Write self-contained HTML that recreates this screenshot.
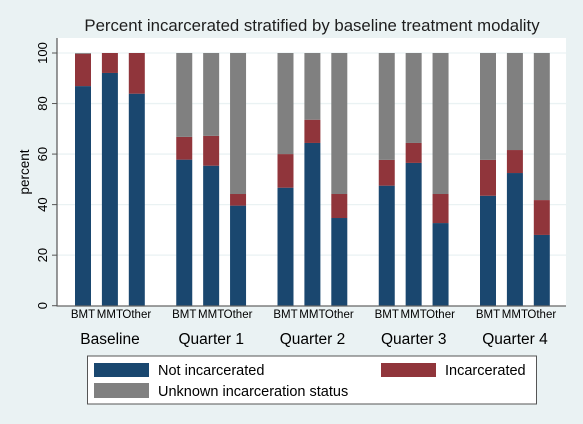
<!DOCTYPE html>
<html><head><meta charset="utf-8"><style>
body{margin:0;background:#eaf2f3;}
svg{display:block;font-family:"Liberation Sans",Arial,sans-serif;}
</style></head><body>
<svg id="chart" width="583" height="424" viewBox="0 0 583 424" xmlns="http://www.w3.org/2000/svg">
<rect x="0" y="0" width="583" height="424" fill="#eaf2f3"/>
<text x="312" y="31" font-size="16.8" text-anchor="middle" fill="#1e1e1e">Percent incarcerated stratified by baseline treatment modality</text>
<rect x="57" y="38" width="509" height="268" fill="#ffffff"/>
<g id="grid"></g>
<g id="bars"></g>
<g id="yaxis"></g>
<g id="xlabels"></g>
<text transform="translate(29,172) rotate(-90)" font-size="13.5" text-anchor="middle" fill="#000">percent</text>
<g>
<rect x="87.5" y="356" width="449" height="48" fill="#fff" stroke="#555" stroke-width="1"/>
<rect x="94" y="363" width="55" height="14" fill="#1a476f"/>
<text x="158" y="375" font-size="14.5" fill="#000">Not incarcerated</text>
<rect x="381" y="363" width="55" height="14" fill="#90353b"/>
<text x="445" y="375" font-size="14.5" fill="#000">Incarcerated</text>
<rect x="94" y="383" width="55" height="15" fill="#808080"/>
<text x="158" y="396" font-size="14.5" fill="#000">Unknown incarceration status</text>
</g>
</svg>
<script>
const groups = ["Baseline","Quarter 1","Quarter 2","Quarter 3","Quarter 4"];
const modalities = ["BMT","MMT","Other"];
const notIncarcerated = [[86.9,92.1,83.9],[57.8,55.4,39.6],[46.7,64.4,34.7],[47.5,56.5,32.7],[43.5,52.5,28.0]];
const incarcerated = [[12.8,7.9,16.1],[9.0,11.8,4.6],[13.3,9.2,9.5],[10.2,7.9,11.5],[14.2,9.1,13.8]];
const unknownStatus = [[0.3,0,0],[33.2,32.8,55.8],[40.0,26.4,55.8],[42.3,35.6,55.8],[42.3,38.4,58.2]];
const yTicks = [0,20,40,60,80,100];

const NS="http://www.w3.org/2000/svg";
function y(v){return 305.7 - v*2.527;}
function gx(g){return 75 + g*101.25;}
function bx(g,m){return gx(g) + m*26.9;}
const BW=16;
function mk(tag,attrs,parent){const e=document.createElementNS(NS,tag);for(const k in attrs)e.setAttribute(k,attrs[k]);parent.appendChild(e);return e;}
const grid=document.getElementById('grid'),bars=document.getElementById('bars'),ya=document.getElementById('yaxis'),xl=document.getElementById('xlabels');
yTicks.forEach(t=>{
  if(t>0){const l=mk('line',{x1:57,x2:566,y1:y(t),y2:y(t),stroke:'#eaf2f3','stroke-width':1.3},grid);
  
  }
  const tk=mk('line',{x1:52,x2:57,y1:y(t),y2:y(t),stroke:'#555','stroke-width':1},ya);
  
  
  const tx=mk('text',{transform:`translate(47,${y(t)}) rotate(-90)`,'font-size':13,'text-anchor':'middle',fill:'#000'},ya);
  tx.textContent=t;
  
  
});
const colors=['#1a476f','#90353b','#808080'];
groups.forEach((g,gi)=>{
  modalities.forEach((m,mi)=>{
    const vals=[notIncarcerated[gi][mi],incarcerated[gi][mi],unknownStatus[gi][mi]];
    const names=['not-incarcerated','incarcerated','unknown'];
    let base=0;
    vals.forEach((v,si)=>{
      if(v<=0){return;}
      const r=mk('rect',{x:bx(gi,mi),y:y(base+v),width:BW,height:y(base)-y(base+v),fill:colors[si]},bars);
      
      
      base+=v;
    });
    const t=mk('text',{x:bx(gi,mi)+BW/2,y:318,'font-size':11.5,'text-anchor':'middle',fill:'#000'},xl);
    t.textContent=m;
    
    
  });
  const gt=mk('text',{x:gx(gi)+35,y:344,'font-size':15.5,'text-anchor':'middle',fill:'#000'},xl);
  gt.textContent=g;
  
  
});
const ax=mk('line',{x1:57,x2:57,y1:38,y2:306.5,stroke:'#555','stroke-width':1.2},ya);


const bl=mk('line',{x1:57,x2:566,y1:306,y2:306,stroke:'#666','stroke-width':1.3},ya);


</script>
</body></html>
